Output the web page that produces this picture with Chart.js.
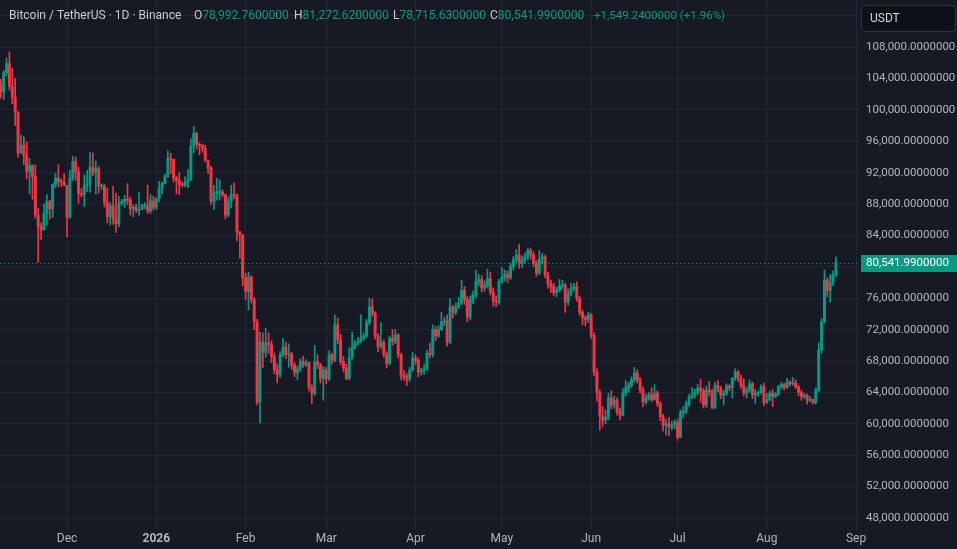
<!DOCTYPE html>
<html>
<head>
<meta charset="utf-8">
<script src="https://cdn.jsdelivr.net/npm/chart.js@4.4.1/dist/chart.umd.min.js"></script>
<style>
  html, body { margin: 0; padding: 0; background: #161a25; }
  #wrap { width: 957px; height: 549px; position: relative; }
</style>
</head>
<body>
<div id="wrap"><canvas id="btc"></canvas></div>
<script>
// daily candles, index 0 = 8 Nov 2025, last = 25 Aug 2026 (prices in thousands USDT)
const firstOpen = 103.3;
const closes = [
  102.3,104.7,105.9,103.0,101.6,99.7,94.5,95.5,94.2,92.2,92.9,91.5,86.6,85.1,84.7,86.8,88.3,87.4,90.5,91.3,90.9,90.8,90.4,
  86.3,91.3,93.4,92.1,89.3,89.2,90.4,90.6,92.7,92.0,92.5,90.3,90.3,88.2,86.4,87.8,86.1,85.5,88.1,88.3,88.6,88.5,87.4,87.6,87.2,87.3,87.8,87.8,87.1,88.4,87.6,
  88.7,90.0,90.6,91.5,93.8,93.7,91.3,91.0,90.5,90.4,90.8,91.1,95.4,97.0,95.6,95.5,95.1,93.6,92.6,88.3,89.4,89.5,89.5,89.2,86.6,88.3,89.2,89.1,84.5,84.1,78.6,
  76.9,78.7,75.8,73.0,62.8,70.4,69.1,70.3,70.1,68.6,66.9,66.3,68.8,69.8,68.8,68.9,67.5,66.5,67.0,67.9,67.5,67.8,64.6,63.9,67.9,67.5,65.8,66.9,
  65.7,68.8,68.1,72.6,70.7,67.9,67.1,65.8,68.4,69.8,70.3,70.5,70.9,71.2,72.9,74.9,74.1,71.2,69.8,70.4,68.8,67.7,70.9,70.5,71.3,68.8,66.2,66.0,65.7,66.9,68.4,
  68.1,66.6,66.8,67.0,69.0,68.8,72.0,71.2,72.0,73.0,73.1,70.4,74.9,74.2,74.9,75.4,77.0,75.8,73.6,75.8,76.4,78.1,78.4,77.3,77.6,78.5,76.8,75.6,75.5,78.1,
  78.7,79.0,78.6,80.0,80.9,81.5,80.5,80.9,81.2,82.1,81.5,80.5,79.2,81.0,81.3,79.0,77.9,77.5,76.7,77.0,77.6,77.7,75.5,76.6,77.2,77.5,76.0,74.2,73.5,73.3,73.9,
  71.3,66.6,64.0,61.0,60.5,60.8,63.3,62.4,63.0,61.5,61.1,63.9,64.6,64.9,65.6,66.5,65.6,64.3,62.8,63.3,63.7,63.1,63.9,62.6,60.9,59.8,60.0,59.6,59.9,60.2,
  58.3,61.4,61.6,62.5,63.4,63.7,64.0,64.6,64.2,62.4,64.3,64.1,62.1,64.9,64.5,63.7,63.9,64.8,64.6,65.8,66.6,65.8,64.9,63.9,64.3,65.1,63.7,63.9,64.0,64.7,62.7,
  63.1,63.9,63.5,63.8,64.7,65.0,64.6,65.3,65.1,65.2,64.7,64.0,63.5,63.6,63.0,63.1,62.7,64.3,69.4,73.0,78.3,77.0,78.0,78.99,80.542
];
const highs = [
  103.9,105.0,106.6,107.4,105.3,104.0,99.8,96.8,96.6,95.9,93.8,93.0,93.0,87.5,85.6,88.0,89.2,88.5,90.6,91.9,93.0,91.2,91.9,
  90.4,92.3,94.1,94.0,92.7,90.0,91.7,92.3,94.6,94.5,93.5,92.8,90.6,90.5,90.0,88.2,90.3,89.4,89.0,88.6,89.1,90.6,88.9,87.9,88.0,89.5,88.0,88.2,90.4,89.2,89.0,
  88.8,90.9,90.8,91.8,94.8,94.5,93.7,91.5,92.0,90.8,91.5,92.4,96.3,97.9,97.2,95.8,95.6,95.5,93.5,92.8,90.4,91.3,91.1,89.8,89.3,88.9,90.4,90.7,89.3,84.5,84.0,
  79.2,79.3,78.9,76.1,73.3,71.7,71.6,72.2,71.6,70.6,69.0,67.6,69.2,70.9,70.4,70.2,69.1,67.8,67.4,68.3,68.6,68.2,67.9,65.0,70.0,68.8,67.7,67.3,
  67.2,69.3,69.0,73.9,73.5,71.4,68.6,67.6,69.7,71.7,70.6,71.0,73.9,71.6,73.3,76.0,75.9,74.3,71.5,72.9,70.7,69.2,71.2,72.0,72.0,71.5,69.0,66.8,66.4,67.2,69.1,
  68.8,68.4,67.1,67.6,69.4,70.3,72.6,72.4,72.5,74.2,73.6,73.9,76.0,75.1,75.4,76.1,78.3,77.5,76.2,76.3,76.9,79.6,79.0,78.9,78.2,79.7,79.3,77.3,76.3,78.4,
  79.9,79.6,79.5,80.5,81.3,82.2,82.9,81.4,81.8,82.4,82.4,81.9,80.8,82.1,81.7,81.5,79.3,78.3,77.9,77.4,78.4,78.3,77.9,77.2,77.9,77.9,78.1,76.3,74.5,73.8,74.2,
  74.0,71.6,67.0,64.3,62.2,61.8,63.9,64.2,63.5,63.3,62.0,64.5,65.5,65.3,66.0,67.2,66.9,65.9,64.7,63.8,64.0,64.6,65.0,64.2,62.8,61.2,60.6,60.8,60.3,60.5,
  60.6,61.8,62.2,62.9,63.8,64.6,64.4,65.0,65.7,64.5,64.8,65.4,64.4,65.3,65.5,64.8,64.3,65.1,65.0,65.9,67.0,66.8,66.2,65.7,64.6,65.6,65.3,64.4,64.2,65.0,65.2,
  63.9,64.2,64.4,64.0,64.9,65.3,65.2,65.8,65.5,65.9,65.6,64.9,64.3,63.9,63.8,63.5,63.2,64.6,70.3,73.4,79.6,78.6,79.0,79.5,81.27
];
const lows = [
  101.5,101.3,104.3,102.5,100.8,98.0,94.0,94.5,93.0,91.2,89.3,88.6,86.2,80.6,83.5,84.7,85.3,86.1,86.3,90.1,90.2,90.2,90.3,
  83.8,86.2,91.0,91.0,88.1,88.9,87.7,89.6,89.5,91.6,89.3,89.4,89.8,87.6,85.6,85.3,85.4,84.4,85.1,87.9,87.6,87.9,86.6,86.4,86.9,86.6,87.3,87.4,86.8,86.8,87.2,
  87.3,88.3,89.3,90.6,91.4,91.9,90.8,89.3,89.2,90.2,90.2,90.1,91.0,94.5,95.0,94.3,94.6,93.4,91.9,88.0,87.3,88.5,88.5,88.9,86.1,86.4,87.5,88.7,83.3,81.1,77.6,
  75.8,74.5,75.4,72.0,62.4,60.1,67.2,68.5,69.0,67.8,66.4,65.2,65.9,68.5,68.3,67.2,66.9,66.0,65.6,66.7,67.2,67.3,64.2,62.6,63.6,67.0,65.2,63.0,
  65.1,65.5,67.6,67.9,70.2,67.5,66.6,65.6,65.6,68.2,69.5,70.0,70.3,70.6,71.0,72.6,73.7,70.8,69.2,69.6,68.5,67.1,67.5,70.0,70.2,68.4,65.6,65.5,64.9,65.4,66.7,
  67.6,66.0,66.2,66.3,66.8,68.4,68.5,70.6,71.0,71.9,72.5,69.9,70.2,73.5,73.9,74.7,75.2,75.2,73.0,73.3,75.3,76.1,77.6,76.8,76.9,77.3,76.4,75.0,74.9,75.2,
  77.9,78.2,78.0,78.4,79.6,80.6,79.8,79.9,80.5,80.9,81.0,80.0,78.8,79.0,80.4,78.6,77.3,76.7,76.3,76.2,76.8,77.2,74.2,75.1,76.3,76.9,75.6,73.8,72.6,72.5,72.9,
  70.9,66.1,62.9,59.2,59.6,60.0,60.5,61.9,62.0,61.1,60.5,61.0,63.5,64.0,64.6,65.3,65.2,63.9,62.2,62.5,63.0,62.8,63.0,62.2,60.4,59.1,58.6,58.5,59.2,59.4,
  57.9,58.2,60.8,61.3,62.2,63.2,63.3,63.7,62.7,62.0,62.1,63.6,61.9,61.9,64.1,63.2,62.4,63.6,64.2,63.3,65.5,65.4,64.5,63.5,63.3,64.0,63.2,62.6,63.5,63.8,62.3,
  62.6,62.9,62.2,63.3,63.6,64.4,64.3,64.5,64.8,64.9,64.5,63.6,63.0,63.2,62.5,62.8,62.5,62.5,64.1,69.0,72.8,76.2,75.5,77.6,78.72
];

const monthTicks = [23, 54, 85, 113, 144, 174, 205, 235, 266, 297];
const monthLabels = ["Dec", "2026", "Feb", "Mar", "Apr", "May", "Jun", "Jul", "Aug", "Sep"];
const priceTicks = [48000, 52000, 56000, 60000, 64000, 68000, 72000, 76000, 80000, 84000,
  88000, 92000, 96000, 100000, 104000, 108000, 112000];

const legendTitle = "Bitcoin / TetherUS \u00b7 1D \u00b7 Binance";
const legendKeys = ["O", "H", "L", "C"];
const legendValues = ["78,992.7600000", "81,272.6200000", "78,715.6300000", "80,541.9900000"];
const legendChange = "+1,549.2400000 (+1.96%)";
const lastPrice = 80541.99;

const UP = "#089981";
const DOWN = "#f23645";
const TEXT = "#b2b5be";
const GRID = "#232733";
const FONT = "Roboto";

const opens = closes.map((c, i) => i === 0 ? firstOpen : closes[i - 1]);
const colors = closes.map((c, i) => c >= opens[i] ? UP : DOWN);

const wickData = closes.map((c, i) => ({ x: i, y: [lows[i] * 1000, highs[i] * 1000] }));
const bodyData = closes.map((c, i) => ({
  x: i,
  y: [Math.min(opens[i], c) * 1000, Math.max(opens[i], c) * 1000]
}));

const nf = new Intl.NumberFormat("en-US", { minimumFractionDigits: 7, maximumFractionDigits: 7 });

function noPadding(scale) {
  scale.paddingTop = 0;
  scale.paddingBottom = 0;
  scale.paddingLeft = 0;
  scale.paddingRight = 0;
}

const overlay = {
  id: "overlay",
  beforeDraw(chart) {
    const ctx = chart.ctx;
    ctx.save();
    ctx.fillStyle = "#161a25";
    ctx.fillRect(0, 0, chart.width, chart.height);
    ctx.restore();
  },
  afterDraw(chart) {
    const ctx = chart.ctx;
    const area = chart.chartArea;
    const y = Math.round(chart.scales.y.getPixelForValue(lastPrice));
    ctx.save();

    // last price dotted line
    ctx.strokeStyle = UP;
    ctx.lineWidth = 1;
    ctx.setLineDash([1, 3]);
    ctx.beginPath();
    ctx.moveTo(area.left, y + 0.5);
    ctx.lineTo(area.right, y + 0.5);
    ctx.stroke();
    ctx.setLineDash([]);

    // last price label
    ctx.fillStyle = UP;
    ctx.fillRect(area.right + 1, y - 8, chart.width - area.right - 1, 17);
    ctx.fillStyle = "#ffffff";
    ctx.font = "11.5px " + FONT;
    ctx.textBaseline = "middle";
    ctx.textAlign = "left";
    ctx.fillText(nf.format(lastPrice), area.right + 6, y + 0.5);

    // currency box
    ctx.fillStyle = "#0f1118";
    ctx.strokeStyle = "#2f333e";
    ctx.beginPath();
    ctx.roundRect(861.5, 5.5, 94, 26, 4);
    ctx.fill();
    ctx.stroke();
    ctx.fillStyle = "#d1d4dc";
    ctx.font = "12px " + FONT;
    ctx.fillText("USDT", 870, 19);

    // legend
    ctx.font = "12px " + FONT;
    ctx.fillStyle = "#c9ccd3";
    ctx.fillText(legendTitle, 9, 16);
    const keyX = [194, 294, 393, 490];
    legendKeys.forEach((k, i) => {
      ctx.fillStyle = "#c9ccd3";
      ctx.fillText(k, keyX[i], 16);
      ctx.fillStyle = UP;
      ctx.fillText(legendValues[i], keyX[i] + ctx.measureText(k).width, 16);
    });
    ctx.fillStyle = UP;
    ctx.font = "11.5px " + FONT;
    ctx.fillText(legendChange, 594, 16);
    ctx.restore();
  }
};

new Chart(document.getElementById("btc"), {
  type: "bar",
  data: {
    datasets: [
      { data: wickData, backgroundColor: colors, barThickness: 1, grouped: false, minBarLength: 1 },
      { data: bodyData, backgroundColor: colors, barThickness: 2.3, grouped: false, minBarLength: 1 }
    ]
  },
  options: {
    responsive: true,
    maintainAspectRatio: false,
    animation: false,
    layout: { padding: 0 },
    plugins: { legend: { display: false }, tooltip: { enabled: false } },
    scales: {
      x: {
        type: "linear",
        offset: false,
        min: -0.27,
        max: 298.35,
        grid: { color: GRID, drawTicks: false, offset: false },
        border: { display: false },
        afterBuildTicks(scale) {
          scale.ticks = monthTicks.map(v => ({ value: v }));
        },
        afterFit(scale) { scale.height = 20; noPadding(scale); },
        ticks: {
          autoSkip: false,
          maxRotation: 0,
          padding: 3,
          color: TEXT,
          font: ctx => ({ family: FONT, size: 12, weight: ctx.tick && ctx.tick.value === 54 ? "bold" : "normal" }),
          callback: v => monthLabels[monthTicks.indexOf(v)]
        }
      },
      y: {
        position: "right",
        min: 46600,
        max: 114000,
        grid: { color: GRID, drawTicks: false },
        border: { display: false },
        afterBuildTicks(scale) {
          scale.ticks = priceTicks.map(v => ({ value: v }));
        },
        afterFit(scale) { scale.width = 97; noPadding(scale); },
        ticks: {
          padding: 6,
          color: TEXT,
          font: { family: FONT, size: 11.5 },
          callback: v => nf.format(v)
        }
      }
    }
  },
  plugins: [overlay]
});
</script>
</body>
</html>
